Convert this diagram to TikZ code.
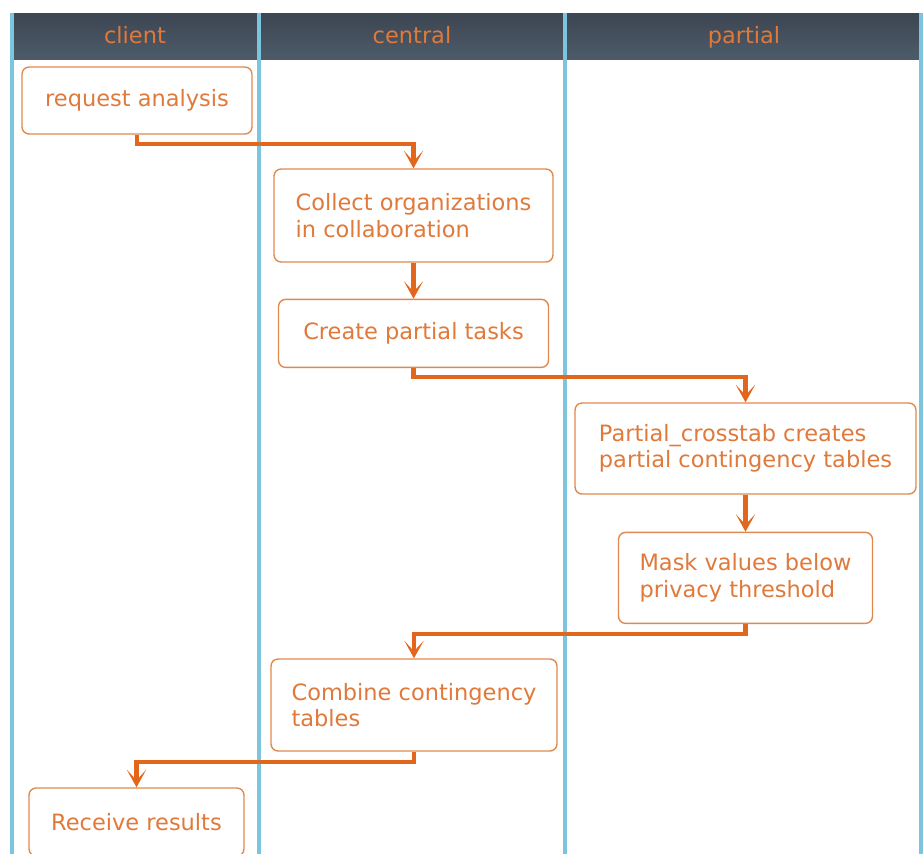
\documentclass[tikz,border=0pt]{standalone}
\usepackage{fontspec}
\setmainfont{DejaVu Sans}
\usepackage{tikz}
\usetikzlibrary{positioning,arrows.meta}
\definecolor{laneblue}{HTML}{7CC5DF}
\definecolor{boxorange}{HTML}{E0894E}
\definecolor{textorange}{HTML}{E0793A}
\definecolor{floworange}{HTML}{E2661B}
\definecolor{headtop}{HTML}{3D4652}
\definecolor{headbot}{HTML}{4D5B69}

\begin{document}
\begin{tikzpicture}[
    x=0.02cm, y=-0.02cm,
    node distance=0.72cm and 0.6cm,
    >={Stealth[length=10pt, width=11pt, inset=6pt]},
    box/.style={rectangle, draw=boxorange, fill=white, rounded corners=4pt,
                align=left, text=textorange, line width=0.8pt,
                font=\fontsize{12.8}{15}\selectfont},
    lanetitle/.style={text=textorange, anchor=base, font=\fontsize{12.8}{15}\selectfont},
    lane/.style={draw=laneblue, line width=1.8pt},
    flow/.style={->, draw=floworange, line width=2.3pt},
]
\useasboundingbox (0,0) rectangle (923,853);
\clip (0,0) rectangle (923,853);

% Swimlane header
\shade[top color=headtop, bottom color=headbot] (10,13) rectangle (922,59);
\node[lanetitle] (tclient) at (135,43) {client};
\node[lanetitle] (tcentral) at (412,43) {central};
\node[lanetitle] (tpartial) at (744,43) {partial};

% Lane separators
\foreach \lx in {12,259,565,921}
  \draw[lane] (\lx,13) -- (\lx,856);

% client lane
\node[box, minimum width=4.6cm, minimum height=1.34cm] (request) at (137,100.5) {request analysis};

% central lane
\node[box, minimum width=5.58cm, minimum height=1.86cm] (collect) at (413.5,215.5) {Collect organizations\\in collaboration};
\node[box, minimum width=5.4cm, minimum height=1.36cm, below=0.72cm of collect] (create) {Create partial tasks};

% partial lane
\node[box, minimum width=6.82cm, minimum height=1.82cm] (crosstab) at (745.5,448.5) {Partial\_crosstab creates\\partial contingency tables};
\node[box, minimum width=5.08cm, minimum height=1.82cm, below=0.74cm of crosstab] (mask) {Mask values below\\privacy threshold};

% back to central and client
\node[box, minimum width=5.72cm, minimum height=1.84cm] (combine) at (414,705) {Combine contingency\\tables};
\node[box, minimum width=4.3cm, minimum height=1.36cm] (receive) at (136.5,822) {Receive results};

% Control flow
\draw[flow] (request.south) -- ++(0,9) -| (collect.north);
\draw[flow] (collect) -- (create);
\draw[flow] (create.south) -- ++(0,9) -| (crosstab.north);
\draw[flow] (crosstab) -- (mask);
\draw[flow] (mask.south) -- ++(0,10) -| (combine.north);
\draw[flow] (combine.south) -- ++(0,10) -| (receive.north);
\end{tikzpicture}
\end{document}
